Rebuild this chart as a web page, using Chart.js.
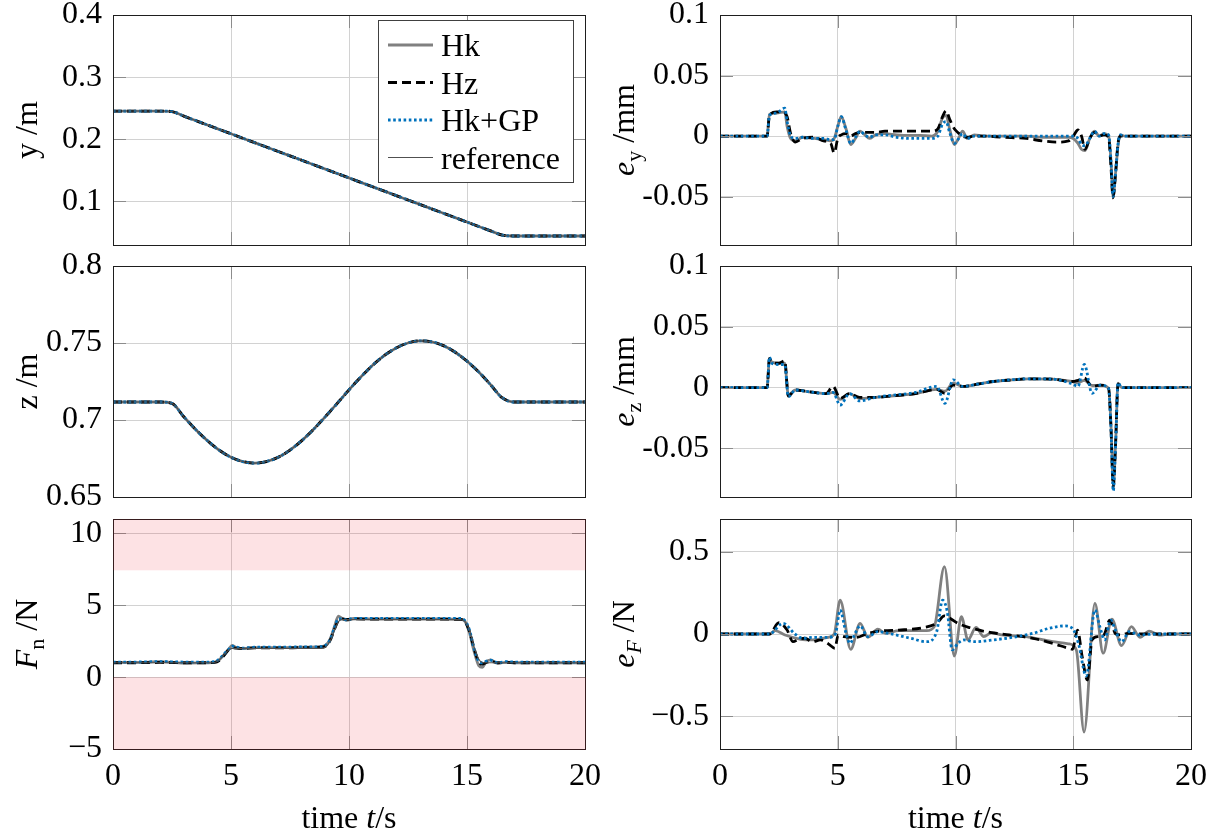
<!DOCTYPE html>
<html>
<head>
<meta charset="utf-8">
<title>Tracking results</title>
<script src="https://cdn.jsdelivr.net/npm/chart.js@4.4.1/dist/chart.umd.min.js"></script>
<style>
  html, body { margin: 0; padding: 0; background: #fff; overflow: hidden; }
  #fig { position: relative; width: 1217px; height: 836px; }
  #fig canvas { position: absolute; }
</style>
</head>
<body>
<div id="fig">
  <canvas id="cPosY"></canvas>
  <canvas id="cPosZ"></canvas>
  <canvas id="cForce"></canvas>
  <canvas id="cErrY"></canvas>
  <canvas id="cErrZ"></canvas>
  <canvas id="cErrF"></canvas>
</div>
<script>
// ---- data -------------------------------------------------------------

// time axis
const timeTicks = [0, 5, 10, 15, 20];
const timeTickLabels = ['0', '5', '10', '15', '20'];

// position trajectories (all controllers lie on top of the reference)
const posT = [0, 0.5, 1, 1.5, 2, 2.5, 3, 3.5, 4, 4.5, 5, 5.5, 6, 6.5, 7, 7.5, 8, 8.5, 9, 9.5,
  10, 10.5, 11, 11.5, 12, 12.5, 13, 13.5, 14, 14.5, 15, 15.5, 16, 16.5, 17, 17.5, 18, 18.5, 19, 19.5, 20];
const posY = [0.2455, 0.2455, 0.2455, 0.2455, 0.2455, 0.2447, 0.2373, 0.2302, 0.2231, 0.2160,
  0.2089, 0.2018, 0.1947, 0.1876, 0.1805, 0.1734, 0.1663, 0.1592, 0.1521, 0.1450,
  0.1379, 0.1308, 0.1237, 0.1166, 0.1095, 0.1024, 0.0953, 0.0882, 0.0811, 0.0740,
  0.0669, 0.0598, 0.0527, 0.0458, 0.0445, 0.0445, 0.0445, 0.0445, 0.0445, 0.0445, 0.0445];
const posZ = [0.7117, 0.7117, 0.7117, 0.7117, 0.7117, 0.7108, 0.7021, 0.6939, 0.6866, 0.6804,
  0.6758, 0.6730, 0.6720, 0.6730, 0.6758, 0.6805, 0.6866, 0.6940, 0.7022, 0.7108,
  0.7196, 0.7279, 0.7355, 0.7419, 0.7468, 0.7500, 0.7514, 0.7508, 0.7483, 0.7440,
  0.7382, 0.7311, 0.7229, 0.7143, 0.7117, 0.7117, 0.7117, 0.7117, 0.7117, 0.7117, 0.7117];
const posYTicks = [0.1, 0.2, 0.3, 0.4];
const posYLabels = ['0.1', '0.2', '0.3', '0.4'];
const posZTicks = [0.65, 0.7, 0.75, 0.8];
const posZLabels = ['0.65', '0.7', '0.75', '0.8'];

// normal force
const forceT = [0, 1, 2, 3, 4, 4.3, 4.5, 4.7, 4.9, 5.05, 5.2, 5.5, 6, 7, 8, 8.8, 9.0, 9.2, 9.4, 9.55,
  9.7, 9.9, 10.2, 11, 12, 13, 14, 14.7, 14.9, 15.1, 15.3, 15.5, 15.65, 15.8, 16.0, 16.3, 16.7, 17, 18, 19, 20];
const forceRef = [1, 1, 1, 1, 1, 1.02, 1.2, 1.55, 1.88, 2.0, 2.0, 2.0, 2.0, 2.0, 2.0, 2.0, 2.08, 2.5, 3.3, 3.85,
  4.0, 4.0, 4.0, 4.0, 4.0, 4.0, 4.0, 4.0, 3.9, 3.3, 2.1, 1.25, 1.02, 1.0, 1.0, 1, 1, 1, 1, 1, 1];
const forceHk = [1.02, 1.02, 1.08, 0.98, 1.0, 1.02, 1.2, 1.55, 1.95, 2.2, 2.08, 1.98, 2.05, 2.05, 2.08, 2.12, 2.2, 2.65, 3.6, 4.25,
  4.1, 3.95, 4.08, 4.05, 4.05, 4.05, 4.05, 4.02, 3.9, 3.1, 1.8, 0.8, 0.68, 1.05, 1.2, 0.95, 1.05, 1.0, 1.0, 1.0, 1.0];
const forceHz = [1.0, 1.0, 1.02, 1.0, 1.0, 1.02, 1.15, 1.5, 1.9, 2.05, 2.02, 2.0, 2.03, 2.03, 2.05, 2.08, 2.15, 2.55, 3.4, 3.95,
  4.05, 4.02, 4.05, 4.03, 4.03, 4.03, 4.03, 4.02, 3.9, 3.2, 2.0, 1.05, 0.9, 1.0, 1.1, 1.0, 1.02, 1.0, 1.0, 1.0, 1.0];
const forceGp = [1.05, 1.05, 1.08, 1.05, 1.05, 1.07, 1.25, 1.6, 1.92, 2.15, 2.1, 2.02, 2.08, 2.08, 2.1, 2.12, 2.2, 2.6, 3.5, 4.05,
  4.05, 3.98, 4.08, 4.08, 4.08, 4.08, 4.08, 4.08, 3.95, 3.3, 2.0, 1.1, 1.0, 1.1, 1.18, 1.0, 1.08, 1.05, 1.05, 1.05, 1.05];
const forceTicks = [-5, 0, 5, 10];
const forceLabels = ['\u22125', '0', '5', '10'];
const forceLimits = [[7.5, 11], [-5, 0]];   // inadmissible force ranges

// tracking error in y
const errYT = [0, 1, 2.0, 2.1, 2.4, 2.75, 2.85, 3.0, 3.2, 3.5, 4.0, 4.4, 4.7, 4.85, 5.0, 5.15, 5.35, 5.55, 5.75, 5.95,
  6.15, 6.35, 6.6, 7.0, 7.5, 8.0, 8.5, 9.0, 9.25, 9.45, 9.6, 9.75, 9.95, 10.1, 10.3, 10.5, 10.8, 11.2, 12, 13,
  13.7, 14.3, 14.8, 15.0, 15.2, 15.35, 15.5, 15.7, 15.9, 16.1, 16.3, 16.5, 16.6, 16.69, 16.8, 16.9, 17.0, 17.2, 18, 19, 20];
const errYHk = [0, 0, 0, 0.018, 0.019, 0.020, 0.008, -0.002, -0.004, -0.001,
  -0.002, -0.003, -0.004, -0.002, 0.008, 0.016, 0.006, -0.007, -0.002, 0.004,
  0.001, -0.002, 0.001, 0.002, 0.001, 0.0005, 0.0005, 0, 0.004, 0.015,
  0.017, 0.006, -0.007, -0.003, 0.004, -0.002, 0.001, 0, 0, 0,
  -0.001, -0.001, -0.001, -0.002, -0.006, -0.011, -0.012, -0.002, 0.004, 0,
  0.002, 0, -0.02, -0.05, -0.03, -0.008, 0.001, 0, 0, 0, 0];
const errYHz = [0, 0, 0, 0.017, 0.020, 0.019, 0.016, 0.002, -0.005, -0.002,
  -0.001, -0.004, -0.006, -0.014, -0.002, 0.001, 0.002, 0, 0.002, 0.003,
  0.003, 0.003, 0.003, 0.004, 0.004, 0.004, 0.004, 0.004, 0.006, 0.016,
  0.021, 0.014, 0.006, 0.003, 0, -0.001, 0, 0, -0.001, -0.002,
  -0.004, -0.005, -0.004, 0, 0.005, 0, -0.011, -0.002, 0.003, 0,
  0.001, -0.001, -0.025, -0.051, -0.03, -0.006, 0, 0, 0, 0, 0];
const errYGp = [0, 0, 0, 0.017, 0.019, 0.023, 0.012, 0, -0.002, -0.001,
  -0.002, -0.002, -0.003, -0.003, 0.008, 0.016, 0.005, -0.006, -0.001, 0.004,
  0.001, -0.001, 0.001, 0.001, -0.001, -0.002, -0.002, -0.002, 0, 0.010,
  0.012, 0.003, -0.006, -0.003, 0.002, -0.002, 0, 0, 0, 0,
  0, 0, 0, 0, -0.002, -0.007, -0.008, -0.002, 0.004, 0,
  0.002, 0.001, -0.02, -0.05, -0.03, -0.007, 0.001, 0, 0, 0, 0];

// tracking error in z
const errZT = [0, 1, 2.0, 2.1, 2.2, 2.5, 2.75, 2.9, 3.2, 3.6, 4.0, 4.5, 4.8, 5.1, 5.5, 5.93, 6.6, 7.5, 8.3, 9.2,
  9.55, 9.9, 10.3, 11.0, 11.6, 12.4, 13.1, 14.1, 14.96, 15.2, 15.47, 15.8, 16.15, 16.5, 16.6, 16.7, 16.8, 16.9, 17.05, 18, 19, 20];
const errZHk = [0, 0, 0, 0.024, 0.021, 0.020, 0.020, -0.006, -0.002, -0.003,
  -0.004, -0.005, -0.004, -0.0097, -0.005, -0.009, -0.008, -0.0065, -0.005, -0.0014,
  -0.003, 0.0036, 0.001, 0.003, 0.005, 0.0063, 0.0072, 0.007, 0.005, 0.004,
  0.006, 0.0017, 0.002, -0.0006, -0.03, -0.08, -0.045, 0.0036, 0, 0, 0, 0];
const errZHz = [0, 0, 0, 0.024, 0.021, 0.020, 0.022, -0.007, -0.002, -0.003,
  -0.004, -0.005, 0.001, -0.0089, -0.005, -0.008, -0.008, -0.0065, -0.005, -0.0014,
  -0.0047, 0.002, 0.001, 0.003, 0.005, 0.0063, 0.0072, 0.007, 0.005, 0.006,
  0.0078, 0.001, 0.002, -0.0006, -0.032, -0.082, -0.045, 0.003, 0, 0, 0, 0];
const errZGp = [0, 0, 0, 0.025, 0.020, 0.019, 0.019, -0.0075, -0.002, -0.003,
  -0.004, -0.005, -0.004, -0.0144, -0.005, -0.011, -0.008, -0.006, -0.004, 0.001,
  -0.013, 0.0064, 0.001, 0.003, 0.005, 0.0065, 0.0072, 0.007, 0.003, 0.001,
  0.019, -0.0047, 0.002, -0.0006, -0.033, -0.085, -0.047, 0.004, 0, 0, 0, 0];
const errMmTicks = [-0.05, 0, 0.05, 0.1];
const errMmLabels = ['-0.05', '0', '0.05', '0.1'];

// force error, each controller sampled at its own turning points
const errFHkT = [0, 2.1, 2.34, 2.76, 3.43, 3.93, 4.6, 4.85, 5.1, 5.55, 5.95, 6.28, 6.7, 7.03, 7.6, 8.78, 9.1, 9.53, 9.95, 10.25,
  10.53, 10.87, 11.2, 11.54, 11.96, 13.0, 14.13, 14.8, 15.13, 15.46, 15.92, 16.27, 16.64, 17.05, 17.47, 17.83, 18.22, 18.64, 19.14, 20];
const errFHk = [0, 0, 0.02, -0.006, -0.032, -0.036, -0.02, 0, 0.206, -0.093, 0.065, -0.02, 0.03, 0.004, 0.02, 0.02, 0.045, 0.41, -0.134, 0.105,
  -0.036, 0.04, -0.016, 0.008, -0.006, -0.016, -0.047, -0.06, -0.097, -0.597, 0.186, -0.117, 0.091, -0.071, 0.045, -0.02, 0.018, -0.006, 0, 0];
const errFHzT = [0, 2.1, 2.5, 2.85, 3.1, 3.35, 3.6, 3.93, 4.27, 4.6, 4.88, 5.02, 5.27, 5.78, 6.28, 6.94, 7.6, 8.61, 9.2, 9.53,
  9.78, 10.1, 10.62, 11.29, 12.29, 13.29, 14.13, 14.8, 14.97, 15.18, 15.38, 15.6, 15.8, 16.05, 16.3, 16.55, 16.8, 17.05, 17.3, 18, 20];
const errFHz = [0, 0, 0.069, 0.024, -0.047, -0.032, -0.026, -0.047, -0.036, -0.06, -0.087, -0.006, -0.016, -0.02, 0.004, 0.02, 0.024, 0.038, 0.065, 0.11,
  0.095, 0.065, 0.038, 0.014, -0.006, -0.026, -0.057, -0.087, -0.093, 0.024, -0.138, -0.28, -0.035, -0.016, -0.006, 0.085, 0, -0.006, 0.004, 0, 0];
const errFGpT = [0, 2.1, 2.68, 3.18, 3.52, 4.01, 4.6, 4.9, 5.1, 5.35, 5.52, 5.74, 5.95, 6.28, 6.7, 7.27, 8.1, 8.78, 9.2, 9.45,
  9.65, 9.86, 10.1, 10.36, 10.78, 11.62, 12.62, 13.29, 13.96, 14.63, 14.97, 15.22, 15.55, 15.92, 16.13, 16.33, 16.59, 16.8, 17.05, 17.38,
  17.8, 18.5, 20];
const errFGp = [0, 0, 0.065, 0, -0.026, -0.02, -0.02, 0, 0.146, 0.005, -0.057, 0.005, 0.049, -0.016, 0.014, 0, -0.026, -0.047, 0.014, 0.206,
  0.136, -0.097, -0.057, -0.036, -0.047, -0.036, -0.016, 0.004, 0.034, 0.049, 0.034, -0.057, -0.255, 0.146, 0.045, -0.036, 0.085, 0.02, -0.047, 0.014,
  -0.006, 0, 0];
const errFTicks = [-0.5, 0, 0.5];
const errFLabels = ['\u22120.5', '0', '0.5'];

// ---- styling ----------------------------------------------------------

const FONT = '"Liberation Serif", "Times New Roman", serif';
const FS = 32;
const GRID = '#d2d2d2';

const lineStyles = {
  'Hk':        { borderColor: '#808080', borderWidth: 2.8, order: 4 },
  'Hz':        { borderColor: '#000000', borderWidth: 2.8, borderDash: [9, 5], order: 3 },
  'Hk+GP':     { borderColor: '#0072bd', borderWidth: 2.8, borderDash: [2.6, 2.6], order: 2 },
  'reference': { borderColor: '#505050', borderWidth: 1.1, order: 1 }
};

function pts(t, v) {
  return t.map((x, i) => ({ x: x, y: v[i] }));
}

function lineSet(label, t, v) {
  return Object.assign({
    label: label,
    data: pts(t, v),
    pointRadius: 0,
    fill: false,
    borderCapStyle: 'butt',
    borderJoinStyle: 'round',
    cubicInterpolationMode: 'monotone'
  }, lineStyles[label]);
}

// text with italic parts and subscripts, optionally rotated
function drawRich(ctx, parts, cx, cy, angle) {
  const fontOf = p => (p[1].indexOf('i') >= 0 ? 'italic ' : '') + (p[1].indexOf('s') >= 0 ? 22 : FS) + 'px ' + FONT;
  ctx.save();
  ctx.translate(cx, cy);
  ctx.rotate(angle);
  ctx.fillStyle = '#000';
  ctx.textAlign = 'left';
  ctx.textBaseline = 'alphabetic';
  let w = 0;
  parts.forEach(p => { ctx.font = fontOf(p); w += ctx.measureText(p[0]).width; });
  let x = -w / 2;
  parts.forEach(p => {
    ctx.font = fontOf(p);
    ctx.fillText(p[0], x, p[1].indexOf('s') >= 0 ? 18 : 11);
    x += ctx.measureText(p[0]).width;
  });
  ctx.restore();
}

// axis box with inward tick marks on all four sides
const framePlugin = {
  id: 'frame',
  afterDatasetsDraw(chart) {
    const { ctx, chartArea: a, scales } = chart;
    const len = 13;
    ctx.save();
    ctx.strokeStyle = '#8c8c8c';
    ctx.lineWidth = 1;
    ctx.beginPath();
    scales.y.ticks.forEach(tk => {
      const py = Math.round(scales.y.getPixelForValue(tk.value)) + 0.5;
      ctx.moveTo(a.left, py); ctx.lineTo(a.left + len, py);
      ctx.moveTo(a.right, py); ctx.lineTo(a.right - len, py);
    });
    scales.x.ticks.forEach(tk => {
      const px = Math.round(scales.x.getPixelForValue(tk.value)) + 0.5;
      ctx.moveTo(px, a.top); ctx.lineTo(px, a.top + len);
      ctx.moveTo(px, a.bottom); ctx.lineTo(px, a.bottom - len);
    });
    ctx.stroke();
    ctx.strokeStyle = '#1e1e1e';
    ctx.strokeRect(Math.round(a.left) + 0.5, Math.round(a.top) + 0.5,
      Math.round(a.right - a.left), Math.round(a.bottom - a.top));
    ctx.restore();
  }
};

// shaded value ranges spanning the full time axis
const bandsPlugin = {
  id: 'bands',
  afterDraw(chart, args, opts) {
    if (!opts.ranges) return;
    const { ctx, chartArea: a, scales } = chart;
    ctx.save();
    ctx.fillStyle = 'rgba(238, 13, 30, 0.12)';
    opts.ranges.forEach(r => {
      const y0 = scales.y.getPixelForValue(r[1]);
      const y1 = scales.y.getPixelForValue(r[0]);
      ctx.fillRect(a.left, y0, a.right - a.left + 1, y1 - y0 + 1);
    });
    ctx.restore();
  }
};

const titlesPlugin = {
  id: 'titles',
  afterDraw(chart, args, opts) {
    const { ctx, chartArea: a } = chart;
    if (opts.y) drawRich(ctx, opts.y, a.left - opts.yOffset, (a.top + a.bottom) / 2, -Math.PI / 2);
    if (opts.x) drawRich(ctx, opts.x, (a.left + a.right) / 2, a.bottom + 68, 0);
  }
};

// framed legend in the upper right of the plot area
const legendBoxPlugin = {
  id: 'legendBox',
  afterDraw(chart, args, opts) {
    if (!opts.show) return;
    const { ctx, chartArea: a } = chart;
    const w = 195, h = 162;
    const x0 = a.right - 12 - w, y0 = a.top + 5;
    ctx.save();
    ctx.fillStyle = '#fff';
    ctx.fillRect(x0, y0, w, h);
    ctx.strokeStyle = '#404040';
    ctx.lineWidth = 1;
    ctx.strokeRect(Math.round(x0) + 0.5, Math.round(y0) + 0.5, w, h);
    chart.data.datasets.forEach((ds, i) => {
      const cy = y0 + 25 + i * 37.5;
      ctx.beginPath();
      ctx.strokeStyle = ds.borderColor;
      ctx.lineWidth = ds.borderWidth;
      ctx.lineCap = 'butt';
      ctx.setLineDash(ds.borderDash || []);
      ctx.moveTo(x0 + 10, cy);
      ctx.lineTo(x0 + 55, cy);
      ctx.stroke();
      ctx.setLineDash([]);
      ctx.fillStyle = '#000';
      ctx.font = FS + 'px ' + FONT;
      ctx.textBaseline = 'alphabetic';
      ctx.fillText(ds.label, x0 + 63, cy + 11);
    });
    ctx.restore();
  }
};

// ---- panels -----------------------------------------------------------

function panel(id, box, cfg) {
  const cv = document.getElementById(id);
  cv.width = box.w;
  cv.height = box.h;
  cv.style.left = box.x + 'px';
  cv.style.top = box.y + 'px';
  const tickFont = { family: FONT, size: FS, lineHeight: 1 };
  return new Chart(cv, {
    type: 'line',
    data: { datasets: cfg.datasets },
    options: {
      responsive: false,
      animation: false,
      devicePixelRatio: 1,
      layout: { padding: box.pad },
      events: [],
      scales: {
        x: {
          type: 'linear', min: 0, max: 20,
          afterBuildTicks: s => { s.ticks = timeTicks.map(v => ({ value: v })); },
          afterFit: s => { s.height = cfg.showX ? 87 : 0; s.paddingLeft = 0; s.paddingRight = 0; },
          grid: { color: GRID, lineWidth: 1, drawTicks: false },
          border: { display: false },
          ticks: {
            display: !!cfg.showX, color: '#000', font: tickFont, padding: 12,
            maxRotation: 0, autoSkip: false,
            callback: (v, i) => timeTickLabels[i]
          }
        },
        y: {
          type: 'linear', min: cfg.yMin, max: cfg.yMax,
          afterBuildTicks: s => { s.ticks = cfg.yTicks.map(v => ({ value: v })); },
          afterFit: s => { s.width = box.yw; s.paddingTop = 0; s.paddingBottom = 0; },
          grid: { color: GRID, lineWidth: 1, drawTicks: false },
          border: { display: false },
          ticks: {
            color: '#000', font: tickFont, padding: 11, autoSkip: false,
            callback: (v, i) => cfg.yLabels[i]
          }
        }
      },
      plugins: {
        legend: { display: false },
        tooltip: { enabled: false },
        bands: { ranges: cfg.bands || null },
        titles: { y: cfg.yTitle, x: cfg.showX ? [['time ', ''], ['t', 'i'], ['/s', '']] : null, yOffset: box.titleOff },
        legendBox: { show: !!cfg.legend }
      }
    },
    plugins: [framePlugin, bandsPlugin, titlesPlugin, legendBoxPlugin]
  });
}

const L = { x: 0, w: 600, yw: 113, titleOff: 87 };
const R = { x: 600, w: 617, yw: 120, titleOff: 97 };
const rows = [
  { y: 0,   h: 285, pad: { top: 15, bottom: 40 } },
  { y: 236, h: 301, pad: { top: 30, bottom: 40 } },
  { y: 489, h: 347, pad: { top: 30, bottom: 0 } }
];
function box(col, row) {
  const r = rows[row];
  return {
    x: col.x, y: r.y, w: col.w, h: r.h, yw: col.yw, titleOff: col.titleOff,
    pad: { left: 0, right: col === L ? 15 : 26, top: r.pad.top, bottom: r.pad.bottom }
  };
}

panel('cPosY', box(L, 0), {
  datasets: [lineSet('Hk', posT, posY), lineSet('Hz', posT, posY), lineSet('Hk+GP', posT, posY), lineSet('reference', posT, posY)],
  yMin: 0.03, yMax: 0.4, yTicks: posYTicks, yLabels: posYLabels,
  yTitle: [['y /m', '']], legend: true
});

panel('cPosZ', box(L, 1), {
  datasets: [lineSet('Hk', posT, posZ), lineSet('Hz', posT, posZ), lineSet('Hk+GP', posT, posZ), lineSet('reference', posT, posZ)],
  yMin: 0.65, yMax: 0.8, yTicks: posZTicks, yLabels: posZLabels,
  yTitle: [['z /m', '']]
});

panel('cForce', box(L, 2), {
  datasets: [lineSet('Hk', forceT, forceHk), lineSet('Hz', forceT, forceHz), lineSet('Hk+GP', forceT, forceGp), lineSet('reference', forceT, forceRef)],
  yMin: -5, yMax: 11, yTicks: forceTicks, yLabels: forceLabels,
  yTitle: [['F', 'i'], ['n', 's'], [' /N', '']], bands: forceLimits, showX: true
});

panel('cErrY', box(R, 0), {
  datasets: [lineSet('Hk', errYT, errYHk), lineSet('Hz', errYT, errYHz), lineSet('Hk+GP', errYT, errYGp)],
  yMin: -0.09, yMax: 0.1, yTicks: errMmTicks, yLabels: errMmLabels,
  yTitle: [['e', 'i'], ['y', 's'], [' /mm', '']]
});

panel('cErrZ', box(R, 1), {
  datasets: [lineSet('Hk', errZT, errZHk), lineSet('Hz', errZT, errZHz), lineSet('Hk+GP', errZT, errZGp)],
  yMin: -0.09, yMax: 0.1, yTicks: errMmTicks, yLabels: errMmLabels,
  yTitle: [['e', 'i'], ['z', 's'], [' /mm', '']]
});

panel('cErrF', box(R, 2), {
  datasets: [lineSet('Hk', errFHkT, errFHk), lineSet('Hz', errFHzT, errFHz), lineSet('Hk+GP', errFGpT, errFGp)],
  yMin: -0.7, yMax: 0.7, yTicks: errFTicks, yLabels: errFLabels,
  yTitle: [['e', 'i'], ['F', 'si'], [' /N', '']], showX: true
});
</script>
</body>
</html>
